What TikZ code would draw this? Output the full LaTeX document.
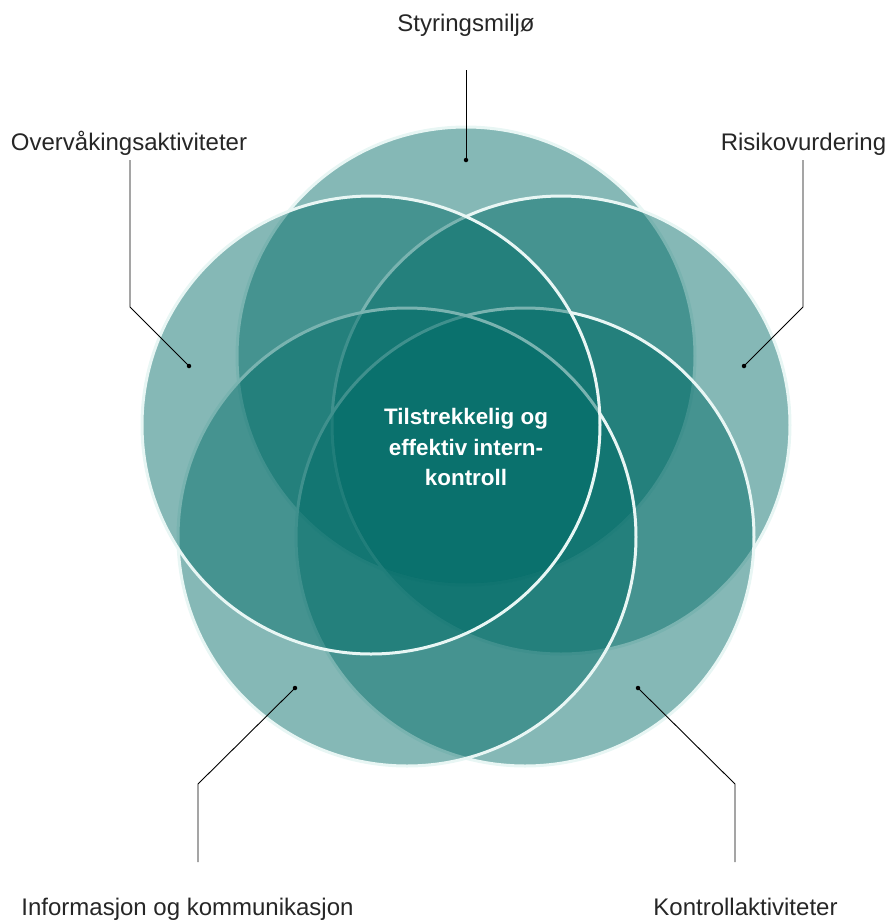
\documentclass[tikz,border=0pt]{standalone}
\usepackage{fontspec}
\setmainfont{Liberation Sans}
\definecolor{tealbase}{RGB}{0,107,103}
\definecolor{mintline}{RGB}{232,246,244}
\definecolor{labeltext}{RGB}{38,38,38}
\begin{document}
\begin{tikzpicture}[x=1pt,y=-1pt,
  ring/.style={circle, minimum size=458pt, inner sep=0pt, outer sep=0pt,
    fill=tealbase, fill opacity=0.48, draw=mintline, draw opacity=1, line width=3pt},
  lbl/.style={anchor=base, inner sep=0pt, text=labeltext,
    font=\fontsize{24}{29}\selectfont},
  conn/.style={draw=black, line width=0.9pt},
  dotpt/.style={circle, fill=black, inner sep=0pt, minimum size=4.5pt}]
\useasboundingbox (0,0) rectangle (886,922);
% circles, drawn clockwise from the top
\node[ring] (cTop) at (466,356) {};
\node[ring] (cRight) at (561,425) {};
\node[ring] (cBR) at (525,537) {};
\node[ring] (cBL) at (407,537) {};
\node[ring] (cLeft) at (371,425) {};
% centre text
\node[align=center, text=white, inner sep=0pt,
  font=\fontsize{22.4}{30.5}\selectfont\bfseries] (centre) at (466,447)
  {Tilstrekkelig og\\effektiv intern-\\kontroll};
% labels
\node[lbl] (lTop) at (466,31) {Styringsmiljø};
\node[lbl] (lLeft) at (129,150) {Overvåkingsaktiviteter};
\node[lbl] (lRight) at (803.5,150) {Risikovurdering};
\node[lbl] (lBL) at (187.5,915.5) {Informasjon og kommunikasjon};
\node[lbl] (lBR) at (745.5,915.5) {Kontrollaktiviteter};
% connector points
\coordinate (sTop) at (466,70);
\node[dotpt] (dTop) at (466,160) {};
\coordinate (sLeft) at (130,160);
\coordinate (bLeft) at (130,307);
\node[dotpt] (dLeft) at (189,366) {};
\coordinate (sRight) at (803,160);
\coordinate (bRight) at (803,307);
\node[dotpt] (dRight) at (744,366) {};
\coordinate (sBL) at (198,862);
\coordinate (bBL) at (198,784);
\node[dotpt] (dBL) at (295,688) {};
\coordinate (sBR) at (735,862);
\coordinate (bBR) at (735,784);
\node[dotpt] (dBR) at (638,688) {};
% connectors
\draw[conn] (sTop) -- (dTop.center);
\draw[conn] (sLeft) -- (bLeft) -- (dLeft.center);
\draw[conn] (sRight) -- (bRight) -- (dRight.center);
\draw[conn] (sBL) -- (bBL) -- (dBL.center);
\draw[conn] (sBR) -- (bBR) -- (dBR.center);
\end{tikzpicture}
\end{document}
